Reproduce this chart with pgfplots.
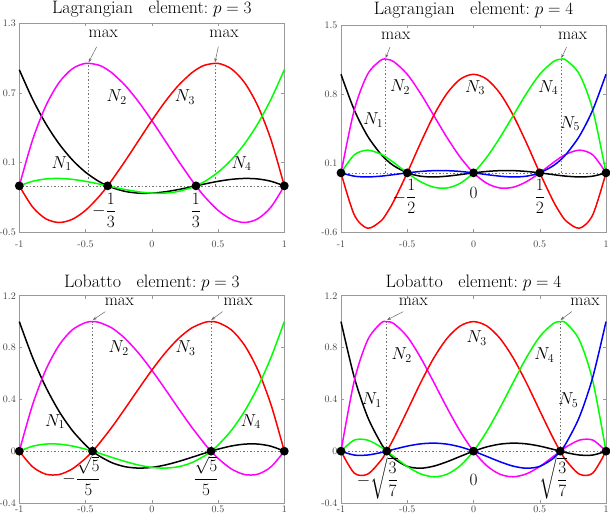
\documentclass[border=0pt]{standalone}
\usepackage{amsmath}
\usepackage{pgfplots}
\pgfplotsset{compat=1.18}
\usepackage{pgfplotstable}
\usetikzlibrary{arrows.meta}

\definecolor{cmag}{RGB}{255,0,255}
\definecolor{cred}{RGB}{255,0,0}
\definecolor{cgreen}{RGB}{0,255,0}
\definecolor{cblue}{RGB}{0,0,255}

% Lagrangian p=3
\pgfplotstableread{
x N1 N2 N3 N4
-1 1.0 0 0 0
-0.9 0.7469 0.3954 -0.1817 0.0393
-0.8 0.5355 0.6885 -0.2835 0.0595
-0.7 0.3623 0.8893 -0.3156 0.0639
-0.6 0.2240 1.0080 -0.2880 0.0560
-0.5 0.1172 1.0547 -0.2109 0.0391
-0.4 0.0385 1.0395 -0.0945 0.0165
-0.3333 0 1 0 0
-0.3 -0.0154 0.9726 0.0512 -0.0083
-0.2 -0.0480 0.8640 0.2160 -0.0320
-0.1 -0.0626 0.7239 0.3898 -0.0512
0 -0.0625 0.5625 0.5625 -0.0625
0.1 -0.0512 0.3898 0.7239 -0.0626
0.2 -0.0320 0.2160 0.8640 -0.0480
0.3 -0.0083 0.0512 0.9726 -0.0154
0.3333 0 0 1 0
0.4 0.0165 -0.0945 1.0395 0.0385
0.5 0.0391 -0.2109 1.0547 0.1172
0.6 0.0560 -0.2880 1.0080 0.2240
0.7 0.0639 -0.3156 0.8893 0.3623
0.8 0.0595 -0.2835 0.6885 0.5355
0.9 0.0393 -0.1817 0.3954 0.7469
1 0 0 0 1.0
}\tabA

% Lagrangian p=4
\pgfplotstableread{
x N1 N2 N3 N4 N5
-1 1.0 0 0 0 0
-0.9 0.6384 0.6384 -0.4256 0.1824 -0.0336
-0.8 0.3744 0.9984 -0.5616 0.2304 -0.0416
-0.7 0.1904 1.1424 -0.4896 0.1904 -0.0336
-0.65 0.1233 1.1512 -0.3985 0.1502 -0.0262
-0.6 0.0704 1.1264 -0.2816 0.1024 -0.0176
-0.5 0 1.0 0 0 0
-0.4 -0.0336 0.8064 0.3024 -0.0896 0.0144
-0.3 -0.0416 0.5824 0.5824 -0.1456 0.0224
-0.2 -0.0336 0.3584 0.8064 -0.1536 0.0224
-0.1 -0.0176 0.1584 0.9504 -0.1056 0.0144
0 0 0 1.0 0 0
0.1 0.0144 -0.1056 0.9504 0.1584 -0.0176
0.2 0.0224 -0.1536 0.8064 0.3584 -0.0336
0.3 0.0224 -0.1456 0.5824 0.5824 -0.0416
0.4 0.0144 -0.0896 0.3024 0.8064 -0.0336
0.5 0 0 0 1.0 0
0.6 -0.0176 0.1024 -0.2816 1.1264 0.0704
0.65 -0.0262 0.1502 -0.3985 1.1512 0.1233
0.7 -0.0336 0.1904 -0.4896 1.1424 0.1904
0.8 -0.0416 0.2304 -0.5616 0.9984 0.3744
0.9 -0.0336 0.1824 -0.4256 0.6384 0.6384
1 0 0 0 0 1.0
}\tabB

% Lobatto p=3
\pgfplotstableread{
x N1 N2 N3 N4
-1 1.0 0 0 0
-0.9 0.7244 0.3577 -0.1202 0.0381
-0.8 0.4950 0.6275 -0.1775 0.0550
-0.7 0.3081 0.8177 -0.1802 0.0544
-0.6 0.1600 0.9367 -0.1367 0.0400
-0.5 0.0469 0.9928 -0.0553 0.0156
-0.4472 0 1 0 0
-0.4 -0.0350 0.9946 0.0554 -0.0150
-0.3 -0.0894 0.9503 0.1872 -0.0481
-0.2 -0.1200 0.8683 0.3317 -0.0800
-0.1 -0.1306 0.7571 0.4804 -0.1069
0 -0.1250 0.6250 0.6250 -0.1250
0.1 -0.1069 0.4804 0.7571 -0.1306
0.2 -0.0800 0.3317 0.8683 -0.1200
0.3 -0.0481 0.1872 0.9503 -0.0894
0.4 -0.0150 0.0554 0.9946 -0.0350
0.4472 0 0 1 0
0.5 0.0156 -0.0553 0.9928 0.0469
0.6 0.0400 -0.1367 0.9367 0.1600
0.7 0.0544 -0.1802 0.8177 0.3081
0.8 0.0550 -0.1775 0.6275 0.4950
0.9 0.0381 -0.1202 0.3577 0.7244
1 0 0 0 1.0
}\tabC

% Lobatto p=4
\pgfplotstableread{
x N1 N2 N3 N4 N5
-1 1.0 0 0 0 0
-0.9 0.5707 0.5428 -0.1691 0.0857 -0.0300
-0.8 0.2664 0.8553 -0.1776 0.0855 -0.0296
-0.7 0.0640 0.9874 -0.0731 0.0331 -0.0113
-0.6547 0 1 0 0 0
-0.6 -0.0576 0.9836 0.1024 -0.0428 0.0144
-0.5 -0.1172 0.8840 0.3125 -0.1184 0.0391
-0.4 -0.1316 0.7235 0.5264 -0.1747 0.0564
-0.3 -0.1155 0.5321 0.7189 -0.1977 0.0622
-0.2 -0.0816 0.3350 0.8704 -0.1782 0.0544
-0.1 -0.0403 0.1525 0.9669 -0.1121 0.0330
0 0 0 1.0 0 0
0.1 0.0330 -0.1121 0.9669 0.1525 -0.0403
0.2 0.0544 -0.1782 0.8704 0.3350 -0.0816
0.3 0.0622 -0.1977 0.7189 0.5321 -0.1155
0.4 0.0564 -0.1747 0.5264 0.7235 -0.1316
0.5 0.0391 -0.1184 0.3125 0.8840 -0.1172
0.6 0.0144 -0.0428 0.1024 0.9836 -0.0576
0.6547 0 0 0 1 0
0.7 -0.0113 0.0331 -0.0731 0.9874 0.0640
0.8 -0.0296 0.0855 -0.1776 0.8553 0.2664
0.9 -0.0300 0.0857 -0.1691 0.5428 0.5707
1 0 0 0 0 1.0
}\tabD

\newcommand{\bigf}{\fontsize{17}{20}\selectfont}
\newcommand{\titf}{\fontsize{18}{21}\selectfont}
\pgfplotsset{
  fempanel/.style={
    scale only axis, width=265pt, anchor=north west,
    xmin=-1, xmax=1, clip=false,
    axis line style={black!40, line width=0.7pt},
    tick style={black!40, line width=0.5pt},
    tick align=inside, major tick length=3pt,
    xtick={-1,-0.5,0,0.5,1}, xticklabels={-1,-0.5,0,0.5,1},
    ticklabel style={font=\fontsize{10}{11}\selectfont, text=black!75},
    title style={font=\titf, anchor=base, at={(0.5,1)}},
    every axis plot/.append style={line width=1.5pt, smooth},
  },
}
\tikzset{
  dotl/.style={black!55, dotted, line width=0.6pt, sharp plot},
  nodem/.style={only marks, mark=*, mark size=3.6pt, black},
  arr/.style={-{Stealth[length=4pt,width=3pt]}, black!60, line width=0.5pt},
}

\begin{document}
\begin{tikzpicture}
\path[use as bounding box] (0,0) rectangle (610pt,-517pt);

% ---------------- Top left
\begin{axis}[fempanel, at={(19.3pt,-23.3pt)}, height=209pt,
  ymin=-0.4, ymax=1.4, ytick={-0.4,0.2,0.8,1.4}, yticklabels={-0.5,0.1,0.7,1.3},
  xticklabel style={yshift=-5pt},
  title={\titf Lagrangian\hspace{15.5pt}element$\mathrel{:}p=3$}, title style={yshift=3.4pt}]
\addplot[dotl] coordinates {(-1,0) (1,0)};
\addplot[dotl] coordinates {(-0.477,0) (-0.477,1.056)};
\addplot[dotl] coordinates {(0.477,0) (0.477,1.056)};
\addplot[black] table[x=x,y=N1] {\tabA};
\addplot[cmag] table[x=x,y=N2] {\tabA};
\addplot[cred] table[x=x,y=N3] {\tabA};
\addplot[cgreen] table[x=x,y=N4] {\tabA};
\addplot[nodem] coordinates {(-1,0) (-0.3333,0) (0.3333,0) (1,0)};
\draw[arr] (-0.416,1.198) -- (-0.477,1.065);
\draw[arr] (0.502,1.198) -- (0.477,1.065);
\node[font=\bigf] at (-0.366,1.313) {max};
\node[font=\bigf] at (0.545,1.313) {max};
\node[font=\bigf] at (-0.265,0.767) {$N_2$};
\node[font=\bigf] at (0.25,0.767) {$N_3$};
\node[font=\bigf] at (-0.68,0.19) {$N_1$};
\node[font=\bigf] at (0.678,0.19) {$N_4$};
\node[font=\bigf] at (-0.36,-0.21) {$-\dfrac{1}{3}$};
\node[font=\bigf] at (0.333,-0.21) {$\dfrac{1}{3}$};
\end{axis}

% ---------------- Top right
\begin{axis}[fempanel, at={(341pt,-25pt)}, height=207pt,
  ymin=-0.6, ymax=1.5, ytick={-0.6,0.1,0.8,1.5}, yticklabels={-0.6,0.1,0.8,1.5},
  xticklabel style={yshift=-5pt},
  title={\titf Lagrangian\hspace{15.5pt}element$\mathrel{:}p=4$}, title style={yshift=4.7pt}]
\addplot[dotl] coordinates {(-1,0) (1,0)};
\addplot[dotl] coordinates {(-0.663,0) (-0.663,1.152)};
\addplot[dotl] coordinates {(0.663,0) (0.663,1.152)};
\addplot[black] table[x=x,y=N1] {\tabB};
\addplot[cmag] table[x=x,y=N2] {\tabB};
\addplot[cred] table[x=x,y=N3] {\tabB};
\addplot[cgreen] table[x=x,y=N4] {\tabB};
\addplot[cblue] table[x=x,y=N5] {\tabB};
\addplot[nodem] coordinates {(-1,0) (-0.5,0) (0,0) (0.5,0) (1,0)};
\draw[arr] (-0.630,1.276) -- (-0.663,1.165);
\draw[arr] (0.703,1.276) -- (0.663,1.165);
\node[font=\bigf] at (-0.587,1.394) {max};
\node[font=\bigf] at (0.748,1.394) {max};
\node[font=\bigf] at (-0.555,0.872) {$N_2$};
\node[font=\bigf] at (0.011,0.865) {$N_3$};
\node[font=\bigf] at (0.565,0.865) {$N_4$};
\node[font=\bigf] at (-0.756,0.535) {$N_1$};
\node[font=\bigf] at (0.728,0.50) {$N_5$};
\node[font=\bigf] at (-0.52,-0.24) {$-\dfrac{1}{2}$};
\node[font=\bigf] at (0,-0.205) {$0$};
\node[font=\bigf] at (0.5,-0.24) {$\dfrac{1}{2}$};
\end{axis}

% ---------------- Bottom left
\begin{axis}[fempanel, at={(19.3pt,-295.7pt)}, height=207.3pt,
  ymin=-0.4, ymax=1.2, ytick={-0.4,0,0.4,0.8,1.2}, yticklabels={-0.4,0,0.4,0.8,1.2},
  xticklabel style={yshift=1pt},
  title={\titf Lobatto\hspace{15.5pt}element$\mathrel{:}p=3$}, title style={yshift=2.4pt}]
\addplot[dotl] coordinates {(-1,0) (1,0)};
\addplot[dotl] coordinates {(-0.4472,0) (-0.4472,1)};
\addplot[dotl] coordinates {(0.4472,0) (0.4472,1)};
\addplot[black] table[x=x,y=N1] {\tabC};
\addplot[cmag] table[x=x,y=N2] {\tabC};
\addplot[cred] table[x=x,y=N3] {\tabC};
\addplot[cgreen] table[x=x,y=N4] {\tabC};
\addplot[nodem] coordinates {(-1,0) (-0.4472,0) (0.4472,0) (1,0)};
\draw[arr] (-0.351,1.077) -- (-0.445,1.013);
\draw[arr] (0.533,1.077) -- (0.449,1.013);
\node[font=\bigf] at (-0.245,1.155) {max};
\node[font=\bigf] at (0.652,1.155) {max};
\node[font=\bigf] at (-0.25,0.794) {$N_2$};
\node[font=\bigf] at (0.255,0.794) {$N_3$};
\node[font=\bigf] at (-0.73,0.227) {$N_1$};
\node[font=\bigf] at (0.747,0.227) {$N_4$};
\node[font=\bigf] at (-0.53,-0.19) {$-\dfrac{\sqrt{5}}{5}$};
\node[font=\bigf] at (0.41,-0.19) {$\dfrac{\sqrt{5}}{5}$};
\end{axis}

% ---------------- Bottom right
\begin{axis}[fempanel, at={(341pt,-295.7pt)}, height=207.3pt,
  ymin=-0.4, ymax=1.2, ytick={-0.4,0,0.4,0.8,1.2}, yticklabels={-0.4,0,0.4,0.8,1.2},
  xticklabel style={yshift=1pt},
  title={\titf Lobatto\hspace{15.5pt}element$\mathrel{:}p=4$}, title style={yshift=2.4pt}]
\addplot[dotl] coordinates {(-1,0) (1,0)};
\addplot[dotl] coordinates {(-0.6547,0) (-0.6547,1)};
\addplot[dotl] coordinates {(0.6547,0) (0.6547,1)};
\addplot[black] table[x=x,y=N1] {\tabD};
\addplot[cmag] table[x=x,y=N2] {\tabD};
\addplot[cred] table[x=x,y=N3] {\tabD};
\addplot[cgreen] table[x=x,y=N4] {\tabD};
\addplot[cblue] table[x=x,y=N5] {\tabD};
\addplot[nodem] coordinates {(-1,0) (-0.6547,0) (0,0) (0.6547,0) (1,0)};
\draw[arr] (-0.53,1.077) -- (-0.652,1.013);
\draw[arr] (0.741,1.077) -- (0.657,1.013);
\node[font=\bigf] at (-0.454,1.155) {max};
\node[font=\bigf] at (0.842,1.155) {max};
\node[font=\bigf] at (0.024,0.871) {$N_3$};
\node[font=\bigf] at (-0.542,0.742) {$N_2$};
\node[font=\bigf] at (0.535,0.742) {$N_4$};
\node[font=\bigf] at (-0.768,0.394) {$N_1$};
\node[font=\bigf] at (0.716,0.394) {$N_5$};
\node[font=\bigf] at (-0.726,-0.21) {$-\sqrt{\dfrac{3}{7}}$};
\node[font=\bigf] at (0,-0.225) {$0$};
\node[font=\bigf] at (0.605,-0.21) {$\sqrt{\dfrac{3}{7}}$};
\end{axis}
\end{tikzpicture}
\end{document}
